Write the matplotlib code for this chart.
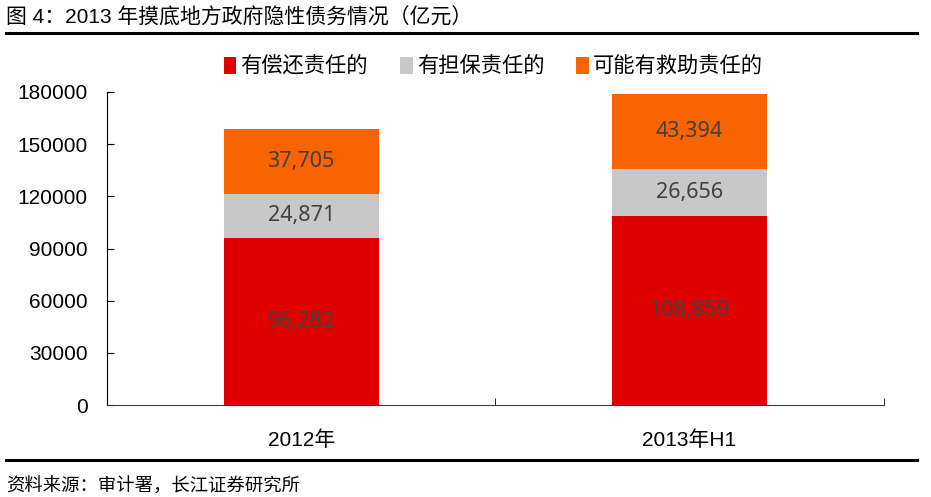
import matplotlib
matplotlib.use('Agg')
import matplotlib.pyplot as plt
import numpy as np

plt.rcParams['font.family'] = ['Liberation Sans', 'Noto Sans CJK SC', 'DejaVu Sans']

# データ
categories = ['2012年', '2013年H1']
series_names = ['有偿还责任的', '有担保责任的', '可能有救助责任的']
repay = [96282, 108859]
guarantee = [24871, 26656]
rescue = [37705, 43394]
yticks = [0, 30000, 60000, 90000, 120000, 150000, 180000]

colors = ['#E00000', '#C8C8C8', '#FA6400']
cjk = ['Liberation Sans', 'Noto Sans CJK SC']

fig = plt.figure(figsize=(9.31, 4.97), dpi=100)
ax = fig.add_axes([0.115, 0.185, 0.834, 0.63])

x = np.arange(len(categories))
width = 0.4
bottom = np.zeros(len(categories))
for name, vals, c in zip(series_names, [repay, guarantee, rescue], colors):
    bars = ax.bar(x, vals, width, bottom=bottom, color=c, label=name)
    for b, v, y0 in zip(bars, vals, bottom):
        ax.text(b.get_x() + b.get_width() / 2, y0 + v / 2, f'{v:,}',
                ha='center', va='center', fontsize=15.5, color='#404040',
                family='Noto Sans')
    bottom = bottom + np.array(vals)

ax.set_xlim(-0.5, 1.5)
ax.set_ylim(0, 180000)
ax.set_yticks(yticks)
ax.set_yticklabels([str(t) for t in yticks], fontsize=15)
ax.set_xticks(x)
ax.set_xticklabels(categories, fontsize=15, family=cjk)
ax.tick_params(axis='x', length=0, pad=18)
ax.tick_params(axis='y', direction='in', length=5, pad=14)
# カテゴリ境界の目盛り
ax.set_xticks([-0.5, 0.5, 1.5], minor=True)
ax.tick_params(axis='x', which='minor', direction='in', length=5)
for s in ['top', 'right']:
    ax.spines[s].set_visible(False)
ax.spines['left'].set_color('black')
ax.spines['bottom'].set_color('#404040')

leg = fig.legend(loc='center', bbox_to_anchor=(0.53, 0.866), ncol=3, frameon=False,
                 prop={'family': cjk, 'size': 15.3}, handlelength=0.6, handleheight=0.9,
                 handletextpad=0.2, columnspacing=1.5)

# タイトルと出所
fig.text(0.006, 0.965, '图 4：2013 年摸底地方政府隐性债务情况（亿元）', fontsize=15,
         family=cjk, va='center')
fig.add_artist(plt.Line2D([0.006, 0.985], [0.934, 0.934], color='black', lw=2.2))
fig.add_artist(plt.Line2D([0.006, 0.985], [0.075, 0.075], color='black', lw=2.2))
fig.text(0.006, 0.02, '资料来源：审计署，长江证券研究所', fontsize=13.2, family=cjk, va='center')

fig.savefig('out.png', dpi=100)
